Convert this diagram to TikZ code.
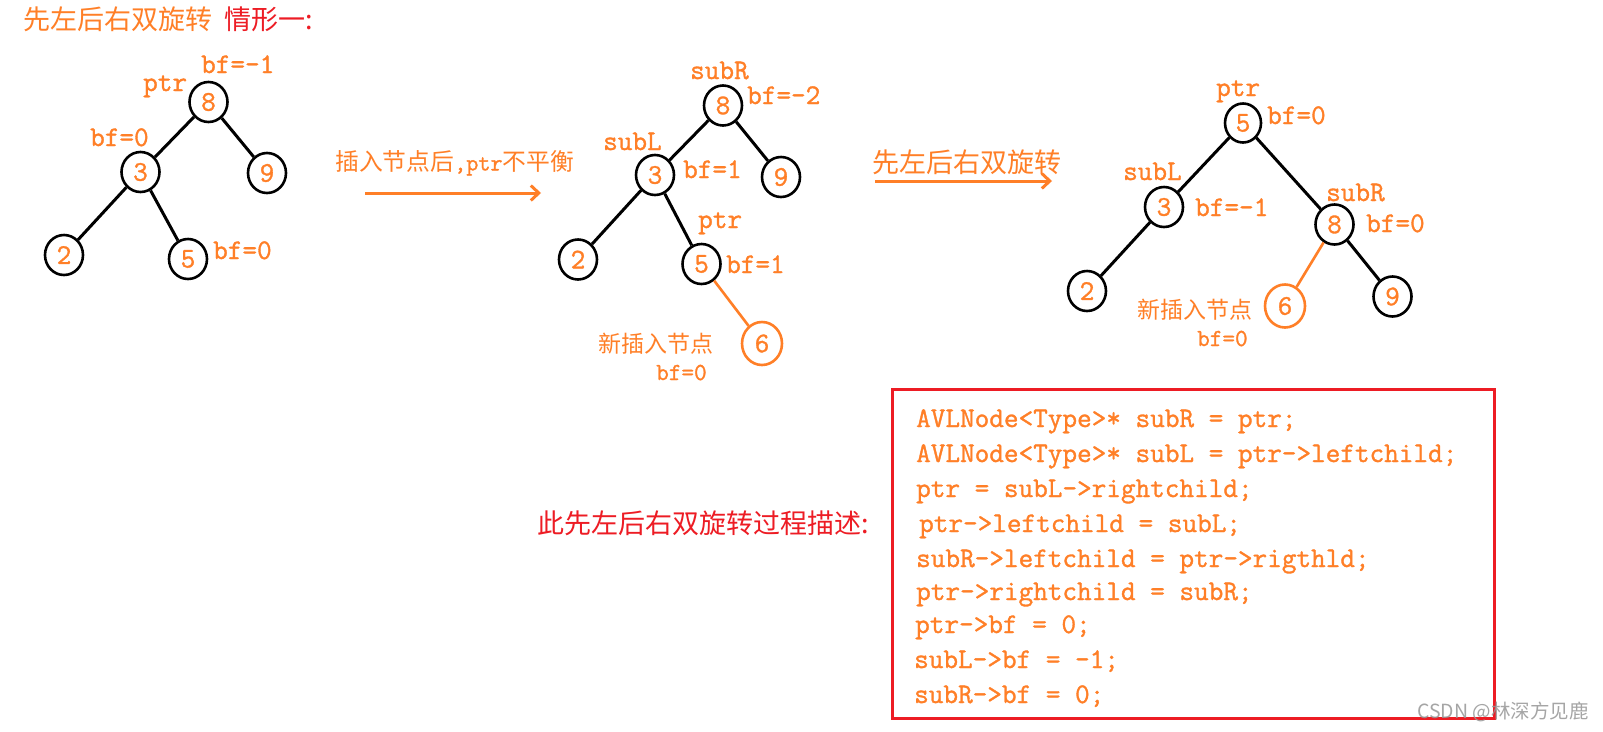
\documentclass[tikz,border=0pt]{standalone}
\usepackage{fontspec}
\newfontfamily\cjk{Noto Sans CJK SC}
\newfontfamily\mono{Latin Modern Mono}[FakeBold=1.2]
\usetikzlibrary{arrows.meta,shapes.geometric}
\definecolor{orng}{RGB}{255,127,39}
\definecolor{rd}{RGB}{237,28,36}
\definecolor{wm}{RGB}{150,150,150}
\newcommand\labfont{\fontsize{28.4}{30}\selectfont\mono}
\newcommand\smlabfont{\fontsize{24.5}{26}\selectfont\mono}
\begin{document}
\begin{tikzpicture}[x=1pt,y=-1pt,
  tn/.style={ellipse,draw=black,line width=2.6pt,minimum width=38pt,minimum height=40pt,inner sep=0pt,text=orng,font=\labfont},
  newn/.style={tn,draw=orng,minimum width=40pt,minimum height=43pt},
  edge/.style={draw=black,line width=3pt},
  oedge/.style={draw=orng,line width=2.6pt},
  lbl/.style={text=orng,font=\labfont,inner sep=0pt,anchor=base west},
  smlbl/.style={text=orng,font=\smlabfont,inner sep=0pt,anchor=base west},
  cjklbl/.style={text=orng,inner sep=0pt,anchor=west},
  arr/.style={draw=orng,line width=3pt,-{Straight Barb[length=8pt,width=15pt,line width=3pt]}},
  codeline/.style={text=orng,font=\labfont,inner sep=0pt,anchor=base west},
  codebox/.style={draw=rd,line width=3pt}
]
\useasboundingbox[fill=white] (0,0) rectangle (1603,731);

% title
\node[cjklbl,font=\cjk\fontsize{27}{28}\selectfont] (title) at (23,19) {先左后右双旋转\hspace{12pt}\textcolor{rd}{情形一:}};

% ---- tree 1 ----
\node[tn] (a8) at (208.5,102) {8};
\node[tn] (a3) at (140.5,172) {3};
\node[tn] (a9) at (267,173) {9};
\node[tn] (a2) at (64,255) {2};
\node[tn] (a5) at (188,259) {5};
\draw[edge] (a8) -- (a3);
\draw[edge] (a8) -- (a9);
\draw[edge] (a3) -- (a2);
\draw[edge] (a3) -- (a5);
\node[lbl] (a8bf) at (201,73) {bf=-1};
\node[lbl] (a8ptr) at (143,91) {ptr};
\node[lbl] (a3bf) at (90,146) {bf=0};
\node[lbl] (a5bf) at (213,259) {bf=0};

% ---- arrow 1 ----
\node[cjklbl,font=\cjk\fontsize{23.8}{25}\selectfont] (ar1t) at (335,163) {插入节点后{\fontsize{23.5}{24}\selectfont\mono,ptr}不平衡};
\coordinate (ar1s) at (365,193);
\coordinate (ar1e) at (541,193);
\draw[arr] (ar1s) -- (ar1e);

% ---- tree 2 ----
\node[tn] (b8) at (723,105.5) {8};
\node[tn] (b3) at (655,175) {3};
\node[tn] (b9) at (781,177) {9};
\node[tn] (b2) at (578,259.5) {2};
\node[tn] (b5) at (701.5,264) {5};
\node[newn] (b6) at (762,343.5) {6};
\draw[edge] (b8) -- (b3);
\draw[edge] (b8) -- (b9);
\draw[edge] (b3) -- (b2);
\draw[edge] (b3) -- (b5);
\draw[oedge] (b5) -- (b6);
\node[lbl] (b8sub) at (690,79) {subR};
\node[lbl] (b8bf) at (747,104) {bf=-2};
\node[lbl] (b3sub) at (603,150) {subL};
\node[lbl] (b3bf) at (683,178) {bf=1};
\node[lbl] (b5ptr) at (698,228) {ptr};
\node[lbl] (b5bf) at (726,273) {bf=1};
\node[cjklbl,font=\cjk\fontsize{23}{24}\selectfont] (b6t) at (598,344) {新插入节点};
\node[smlbl] (b6bf) at (656,380) {bf=0};

% ---- arrow 2 ----
\node[cjklbl,font=\cjk\fontsize{27}{28}\selectfont] (ar2t) at (872,162) {先左后右双旋转};
\coordinate (ar2s) at (875,181);
\coordinate (ar2e) at (1052,181);
\draw[arr] (ar2s) -- (ar2e);

% ---- tree 3 ----
\node[tn,minimum width=36pt,minimum height=39pt] (c5) at (1243,123) {5};
\node[tn] (c3) at (1164,207) {3};
\node[tn] (c8) at (1334.5,224.5) {8};
\node[tn] (c2) at (1087,291) {2};
\node[newn] (c6) at (1285,306) {6};
\node[tn] (c9) at (1392.5,296.5) {9};
\draw[edge] (c5) -- (c3);
\draw[edge] (c5) -- (c8);
\draw[edge] (c3) -- (c2);
\draw[oedge] (c8) -- (c6);
\draw[edge] (c8) -- (c9);
\node[lbl] (c5ptr) at (1216,96) {ptr};
\node[lbl] (c5bf) at (1267,124) {bf=0};
\node[lbl] (c3sub) at (1123,180) {subL};
\node[lbl] (c3bf) at (1195,216) {bf=-1};
\node[lbl] (c8sub) at (1326,201) {subR};
\node[lbl] (c8bf) at (1366,232) {bf=0};
\node[cjklbl,font=\cjk\fontsize{23}{24}\selectfont] (c6t) at (1137,310) {新插入节点};
\node[smlbl] (c6bf) at (1197,346) {bf=0};

% ---- description ----
\node[cjklbl,text=rd,font=\cjk\fontsize{27}{28}\selectfont] (desc) at (537,523) {此先左后右双旋转过程描述:};
\draw[codebox] (892.5,389.5) rectangle (1494.5,718.5);
\node[codeline] (l1) at (916,427) {AVLNode<Type>* subR = ptr;};
\node[codeline] (l2) at (916,462) {AVLNode<Type>* subL = ptr->leftchild;};
\node[codeline] (l3) at (916,497) {ptr = subL->rightchild;};
\node[codeline] (l4) at (919,532) {ptr->leftchild = subL;};
\node[codeline] (l5) at (916,567) {subR->leftchild = ptr->rigthld;};
\node[codeline] (l6) at (916,600) {ptr->rightchild = subR;};
\node[codeline] (l7) at (915,633) {ptr->bf = 0;};
\node[codeline] (l8) at (914,668) {subL->bf = -1;};
\node[codeline] (l9) at (914,703) {subR->bf = 0;};

% watermark
\node[anchor=west,inner sep=0pt,text=wm,opacity=0.85,font=\cjk\fontsize{19.5}{20}\selectfont] (wmark) at (1417,712) {CSDN @林深方见鹿};
\end{tikzpicture}
\end{document}
